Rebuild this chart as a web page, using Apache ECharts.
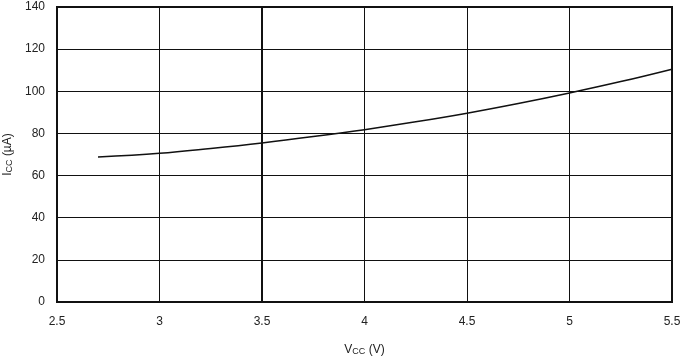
<!DOCTYPE html>
<html><head><meta charset="utf-8">
<script src="https://cdn.jsdelivr.net/npm/echarts@6/dist/echarts.min.js"></script>
<style>html,body{margin:0;padding:0;background:#fff}#c{width:684px;height:357px}</style>
</head><body><div id="c"></div>
<script>
const vcc = [2.7, 3.0, 3.25, 3.5, 3.75, 4.0, 4.25, 4.5, 4.75, 5.0, 5.25, 5.5];
const icc = [68.8, 70.6, 72.9, 75.5, 78.5, 81.8, 85.5, 89.6, 94.2, 99.2, 104.6, 110.5];
const xTicks = [2.5, 3, 3.5, 4, 4.5, 5, 5.5];
const yTicks = [0, 20, 40, 60, 80, 100, 120, 140];

const chart = echarts.init(document.getElementById('c'));
const font = 'Liberation Sans, Arial, sans-serif';
chart.setOption({
  animation: false,
  grid: {left: 57, right: 12, top: 7, bottom: 55, show: true, borderColor: '#111', borderWidth: 2, backgroundColor: '#fff',
    containLabel: false, outerBoundsMode: 'none'},
  xAxis: {
    type: 'value', min: 2.5, max: 5.5, interval: 0.5,
    axisLine: {show: false}, axisTick: {show: false},
    splitLine: {show: true, lineStyle: {color: '#111', width: 1}},
    axisLabel: {color: '#222', fontFamily: font, fontSize: 12, margin: 14,
      formatter: v => xTicks.includes(v) ? String(v) : ''},
    name: '{m|V}{s|CC}{m| (V)}', nameLocation: 'middle', nameGap: 41,
    nameTextStyle: {rich: {m: {fontFamily: font, fontSize: 12, color: '#222'}, s: {fontFamily: font, fontSize: 9, color: '#222', padding: [4,0,0,0]}}}
  },
  yAxis: {
    type: 'value', min: 0, max: 140, interval: 20,
    axisLine: {show: false}, axisTick: {show: false},
    splitLine: {show: true, lineStyle: {color: '#111', width: 1}},
    axisLabel: {color: '#222', fontFamily: font, fontSize: 12, margin: 12,
      formatter: v => yTicks.includes(v) ? String(v) : ''},
    name: '{m|I}{s|CC}{m| (µA)}', nameLocation: 'middle', nameGap: 42, nameRotate: 90,
    nameTextStyle: {rich: {m: {fontFamily: font, fontSize: 12, color: '#222'}, s: {fontFamily: font, fontSize: 9, color: '#222', padding: [4,0,0,0]}}}
  },
  series: [{
    type: 'line', smooth: 0.4, showSymbol: false,
    data: vcc.map((v, i) => [v, icc[i]]),
    lineStyle: {color: '#111', width: 1.5},
    markLine: {silent: true, symbol: 'none', label: {show: false},
      lineStyle: {color: '#111', width: 2, type: 'solid'}, data: [{xAxis: 3.5}]}
  }]
});
</script></body></html>
